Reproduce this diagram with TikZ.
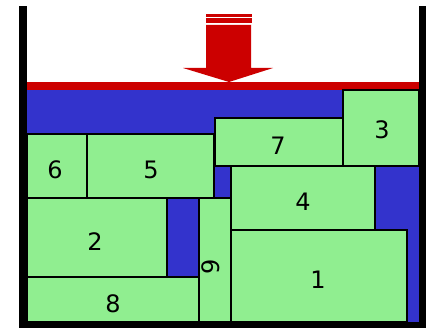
\documentclass[tikz,border=0pt]{standalone}
\usepackage{fontspec}
\setmainfont{DejaVu Sans}
\definecolor{blockgreen}{HTML}{90EE90}
\definecolor{fillblue}{HTML}{3333CC}
\definecolor{pressred}{HTML}{CC0000}
\tikzset{
  blockbox/.style={draw=black, line width=1.2pt, fill=blockgreen, inner sep=0pt, outer sep=0pt},
  digit/.style={font=\fontsize{24}{24}\selectfont, text=black, yshift=-4pt},
  wall/.style={fill=black, draw=none},
}
\begin{document}
\begin{tikzpicture}[x=1pt, y=-1pt]
\useasboundingbox (0,0) rectangle (426,329);
% blue interior
\fill[fillblue] (27,90) rectangle (419,322);
% red press plate
\fill[pressred] (27,82) rectangle (419,90);
% arrow
\fill[pressred] (206,14) rectangle (252,17);
\fill[pressred] (206,18.5) rectangle (252,23);
\fill[pressred] (206,25) -- (251,25) -- (251,68) -- (273,68) -- (229,82) -- (183,68) -- (206,68) -- cycle;
% blocks
\node[blockbox, minimum width=60pt, minimum height=64pt] (b6) at (57,166) {};
\node[blockbox, minimum width=127pt, minimum height=64pt] (b5) at (150.5,166) {};
\node[blockbox, minimum width=140pt, minimum height=79pt] (b2) at (97,237.5) {};
\node[blockbox, minimum width=172pt, minimum height=45pt] (b8) at (113,299.5) {};
\node[blockbox, minimum width=32pt, minimum height=124pt] (b9) at (215,260) {};
\node[blockbox, minimum width=128pt, minimum height=48pt] (b7) at (279,142) {};
\node[blockbox, minimum width=76pt, minimum height=76pt] (b3) at (381,128) {};
\node[blockbox, minimum width=144pt, minimum height=64pt] (b4) at (303,198) {};
\node[blockbox, minimum width=176pt, minimum height=92pt] (b1) at (319,276) {};
% labels
\node[digit] (l6) at (55,166) {6};
\node[digit] (l5) at (151,166) {5};
\node[digit] (l2) at (95,238) {2};
\node[digit] (l8) at (113,300) {8};
\node[digit, rotate=90, yshift=4pt] (l9) at (215,263) {9};
\node[digit] (l7) at (278,142) {7};
\node[digit] (l3) at (382,126) {3};
\node[digit] (l4) at (303,198) {4};
\node[digit] (l1) at (318,276) {1};
% container walls
\fill[wall] (19,6) rectangle (27,328);
\fill[wall] (419,6) rectangle (426,328);
\fill[wall] (19,322) rectangle (426,328);
\end{tikzpicture}
\end{document}
